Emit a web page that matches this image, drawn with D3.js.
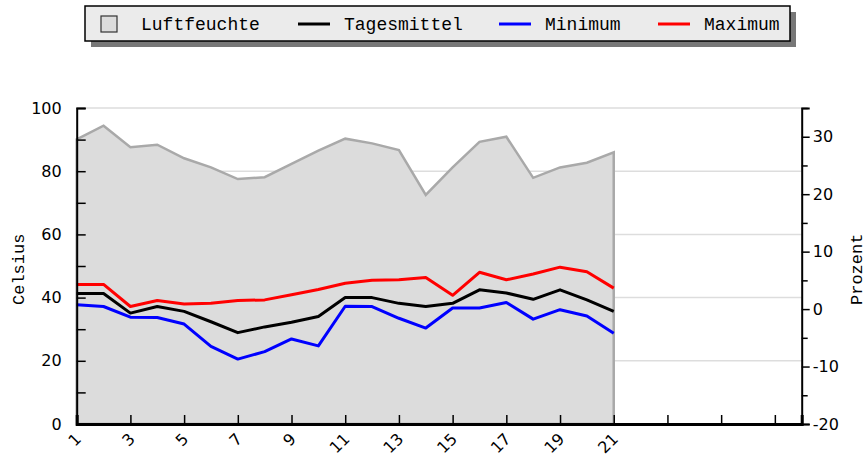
<!DOCTYPE html>
<html>
<head>
<meta charset="utf-8">
<script src="https://cdn.jsdelivr.net/npm/d3@7"></script>
<style>
  body { margin: 0; background: #fff; }
  svg { display: block; }
  text { font-family: "Liberation Mono", "DejaVu Sans Mono", monospace; }
</style>
</head>
<body>
<svg id="chart" width="866" height="458"></svg>
<script>
// days of the month (february, x axis runs to 28)
const days = d3.range(1, 22);
const humidity = [90.1, 94.4, 87.6, 88.4, 84.1, 81.2, 77.5, 78.1, 82.3, 86.5, 90.3,
                  88.8, 86.7, 72.5, 81.2, 89.3, 90.9, 77.9, 81.2, 82.7, 86.0];
const tMean = [2.7, 2.7, -0.7, 0.45, -0.4, -2.2, -4.1, -3.1, -2.3, -1.3, 2.0,
               2.0, 1.0, 0.45, 1.0, 3.35, 2.8, 1.7, 3.35, 1.6, -0.4];
const tMin = [0.75, 0.45, -1.4, -1.45, -2.6, -6.5, -8.7, -7.4, -5.2, -6.4, 0.5,
              0.45, -1.6, -3.3, 0.2, 0.2, 1.15, -1.75, -0.1, -1.2, -4.2];
const tMax = [4.3, 4.3, 0.45, 1.5, 0.9, 1.0, 1.5, 1.6, 2.5, 3.4, 4.5,
              5.0, 5.1, 5.5, 2.4, 6.4, 5.1, 6.1, 7.3, 6.5, 3.65];
const xTicks = d3.range(1, 28, 2);
const leftTicks = d3.range(0, 101, 10);
const rightTicks = d3.range(-20, 36, 5);
const legendItems = ['Luftfeuchte', 'Tagesmittel', 'Minimum', 'Maximum'];

const svg = d3.select('#chart');
const plotL = 76.7, plotR = 801.7, plotT = 108, plotB = 424;

const x = d3.scaleLinear().domain([1, 28]).range([plotL, plotR]);
const yL = d3.scaleLinear().domain([0, 100]).range([plotB, plotT]);
const yR = d3.scaleLinear().domain([-20, 35]).range([plotB, plotT]);

// horizontal grid lines
svg.append('g')
  .selectAll('line')
  .data(leftTicks.filter(d => d % 20 === 0 && d > 0))
  .join('line')
  .attr('x1', plotL).attr('x2', plotR)
  .attr('y1', d => yL(d)).attr('y2', d => yL(d))
  .attr('stroke', '#dddddd')
  .attr('stroke-width', 1.5);

// humidity area
const area = d3.area()
  .x((d, i) => x(days[i]))
  .y0(yL(0))
  .y1(d => yL(d));

svg.append('path')
  .datum(humidity)
  .attr('d', area)
  .attr('fill', '#dcdcdc')
  .attr('stroke', '#a9a9a9')
  .attr('stroke-width', 2.5);

// temperature lines (right axis)
const line = d3.line()
  .x((d, i) => x(days[i]))
  .y(d => yR(d));

[[tMax, '#ff0000'], [tMin, '#0000ff'], [tMean, '#000000']].forEach(([vals, col]) => {
  svg.append('path')
    .datum(vals)
    .attr('d', line)
    .attr('fill', 'none')
    .attr('stroke', col)
    .attr('stroke-width', 3)
    .attr('stroke-linejoin', 'round');
});

// left axis
const axL = svg.append('g')
  .attr('transform', `translate(${plotL},0)`)
  .call(d3.axisLeft(yL).tickValues(leftTicks).tickSize(-9).tickPadding(15)
    .tickFormat(d => d % 20 === 0 ? d : ''));

// right axis
const axR = svg.append('g')
  .attr('transform', `translate(${plotR},0)`)
  .call(d3.axisRight(yR).tickValues(rightTicks)
    .tickSize(8).tickPadding(3)
    .tickFormat(d => d % 10 === 0 && d <= 30 ? d : ''));
axR.selectAll('.tick line').attr('x2', d => d % 10 === 0 ? 8 : 6);

// bottom axis
const axB = svg.append('g')
  .attr('transform', `translate(0,${plotB})`)
  .call(d3.axisBottom(x).tickValues(xTicks).tickSize(-9)
    .tickFormat(d => d <= 21 ? d : ''));
axB.selectAll('.tick text')
  .attr('text-anchor', 'end')
  .attr('y', 0).attr('dy', '0.35em')
  .attr('transform', 'translate(1,12) rotate(-45)');

[axL, axR, axB].forEach(ax => {
  ax.select('.domain').attr('stroke', '#000').attr('stroke-width', 2);
  ax.selectAll('.tick line').attr('stroke', '#000').attr('stroke-width', 1.5);
  ax.selectAll('.tick text').attr('font-size', 16).attr('fill', '#000')
    .style('font-family', '"DejaVu Sans", sans-serif');
});
axB.select('.domain').attr('stroke-width', 3);

// axis titles
svg.append('text')
  .attr('transform', 'translate(24,305) rotate(-90)')
  .attr('font-size', 17)
  .text('Celsius');
svg.append('text')
  .attr('transform', 'translate(862,305) rotate(-90)')
  .attr('font-size', 17)
  .text('Prozent');

// legend
const lg = svg.append('g');
lg.append('rect')
  .attr('x', 91).attr('y', 12).attr('width', 705).attr('height', 35)
  .attr('fill', '#777');
lg.append('rect')
  .attr('x', 85).attr('y', 6).attr('width', 705).attr('height', 35)
  .attr('fill', '#ebebeb').attr('stroke', '#000').attr('stroke-width', 1.5);

const itemX = [101, 298, 499, 658];
const itemCol = [null, '#000000', '#0000ff', '#ff0000'];
legendItems.forEach((name, i) => {
  if (i === 0) {
    lg.append('rect')
      .attr('x', itemX[i]).attr('y', 16).attr('width', 16).attr('height', 16)
      .attr('fill', '#dcdcdc').attr('stroke', '#333').attr('stroke-width', 1.2);
  } else {
    lg.append('line')
      .attr('x1', itemX[i]).attr('x2', itemX[i] + 32)
      .attr('y1', 24).attr('y2', 24)
      .attr('stroke', itemCol[i]).attr('stroke-width', 3);
  }
  lg.append('text')
    .attr('x', itemX[i] + (i === 0 ? 40 : 46))
    .attr('y', 29.5)
    .attr('font-size', 18)
    .text(name);
});
</script>
</body>
</html>
